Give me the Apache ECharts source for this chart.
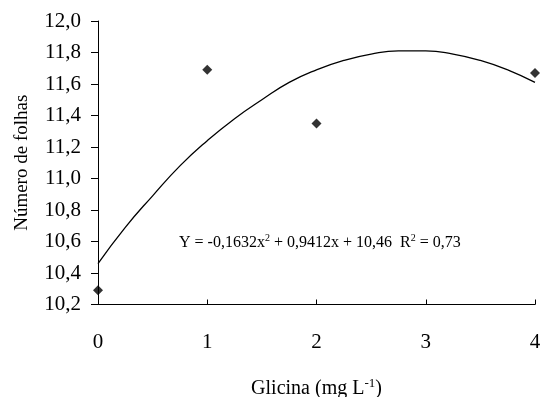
<!DOCTYPE html>
<html>
<head>
<meta charset="utf-8">
<script src="https://cdn.jsdelivr.net/npm/echarts@6/dist/echarts.min.js"></script>
<style>html,body{margin:0;padding:0;background:#fff}#c{width:540px;height:397px}</style>
</head>
<body>
<div id="c"></div>
<script>
// Observed points
var obsX = [0, 1, 2, 4];
var obsY = [10.29, 11.69, 11.35, 11.67];
// Trend curve
var curveX = [0, 0.25, 0.5, 0.75, 1, 1.25, 1.5, 1.75, 2, 2.25, 2.5, 2.75, 3, 3.25, 3.5, 3.75, 4];
var curveY = [10.46, 10.69, 10.89, 11.08, 11.24, 11.38, 11.50, 11.61, 11.69, 11.75, 11.79, 11.81, 11.81, 11.79, 11.75, 11.69, 11.61];
var yTicks = {min: 10.2, max: 12.0, step: 0.2};
var xTicks = {min: 0, max: 4, step: 1};

var serif = '"Liberation Serif", "Times New Roman", serif';
var chart = echarts.init(document.getElementById('c'));
chart.setOption({
  animation: false,
  backgroundColor: '#fff',
  grid: {left: 98, right: 5, top: 21, bottom: 92.5, containLabel: false, outerBoundsMode: 'none'},
  xAxis: {
    type: 'value', min: xTicks.min, max: xTicks.max, interval: xTicks.step,
    splitLine: {show: false},
    axisLine: {lineStyle: {color: '#000', width: 1}},
    axisTick: {inside: true, length: 5, lineStyle: {color: '#000'}},
    axisLabel: {color: '#000', fontFamily: serif, fontSize: 21, margin: 27},
    name: '{a|Glicina (mg L}{s|-1}{a|)}',
    nameLocation: 'middle', nameGap: 73,
    nameTextStyle: {
      rich: {
        a: {fontFamily: serif, fontSize: 20, color: '#000', lineHeight: 23},
        s: {fontFamily: serif, fontSize: 13, color: '#000', lineHeight: 13, verticalAlign: 'top'}
      }
    }
  },
  yAxis: {
    type: 'value', min: yTicks.min, max: yTicks.max, interval: yTicks.step,
    splitLine: {show: false},
    axisLine: {show: true, lineStyle: {color: '#000', width: 1}},
    axisTick: {show: true, inside: false, length: 7, lineStyle: {color: '#000'}},
    axisLabel: {color: '#000', fontFamily: serif, fontSize: 21, margin: 17,
      formatter: function (v) { return v.toFixed(1).replace('.', ','); }},
    name: 'Número de folhas',
    nameLocation: 'middle', nameGap: 66,
    nameTextStyle: {fontFamily: serif, fontSize: 19, color: '#000'}
  },
  series: [
    {
      type: 'line', smooth: true, showSymbol: false, symbol: 'none',
      lineStyle: {color: '#000', width: 1.3},
      data: curveX.map(function (x, i) { return [x, curveY[i]]; }),
      z: 2
    },
    {
      type: 'scatter', symbol: 'diamond', symbolSize: 10, clip: false,
      itemStyle: {color: '#000'},
      data: obsX.map(function (x, i) { return [x, obsY[i]]; }),
      z: 3
    }
  ],
  graphic: [{
    type: 'text', left: 179, top: 233,
    style: {
      text: '{a|Y = -0,1632x}{s|2}{a| + 0,9412x + 10,46  R}{s|2}{a| = 0,73}',
      rich: {
        a: {fontFamily: serif, fontSize: 16, fill: '#000', lineHeight: 20},
        s: {fontFamily: serif, fontSize: 10, fill: '#000', lineHeight: 10, verticalAlign: 'top'}
      }
    }
  }]
});
</script>
</body>
</html>
